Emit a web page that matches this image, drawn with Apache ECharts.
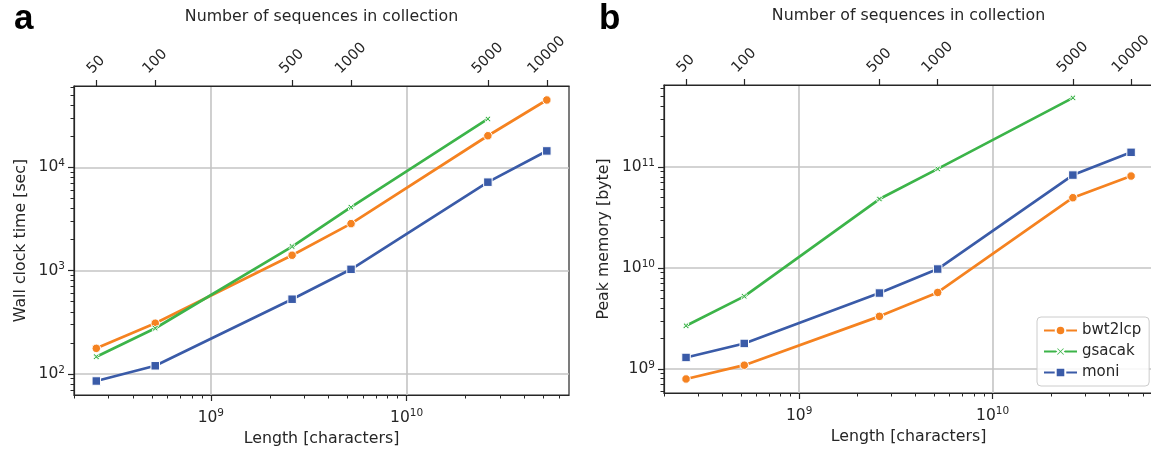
<!DOCTYPE html>
<html>
<head>
<meta charset="utf-8">
<script src="https://cdn.jsdelivr.net/npm/echarts@6/dist/echarts.min.js"></script>
<style>
    html, body { margin: 0; padding: 0; background: #fff; }
    #chart { width: 1151px; height: 451px; }
</style>
</head>
<body>
<div id="chart"></div>
<script>
// number of sequences and total length of the collection (characters)
var counts = [50, 100, 500, 1000, 5000, 10000];
var lengths = [2.6e8, 5.2e8, 2.6e9, 5.2e9, 2.6e10, 5.2e10];

// panel a: wall clock time [sec]
var timeBwt2lcp = [177, 310, 1410, 2850, 20200, 44800];
var timeGsacak = [147, 277, 1710, 4110, 29400];
var timeMoni = [85.5, 120, 529, 1030, 7180, 14400];

// panel b: peak memory [byte]
var memBwt2lcp = [7.96e8, 1.09e9, 3.32e9, 5.73e9, 4.97e10, 8.15e10];
var memGsacak = [2.68e9, 5.24e9, 4.82e10, 9.6e10, 4.85e11];
var memMoni = [1.30e9, 1.79e9, 5.65e9, 9.77e9, 8.33e10, 1.40e11];

// major tick values
var xTicks = [1e9, 1e10];
var timeTicks = [1e2, 1e3, 1e4];
var memTicks = [1e9, 1e10, 1e11];

var FONT = 'DejaVu Sans';
var INK = '#262626';
var GRID_COLOR = '#c4c4c4';
var COLORS = {bwt2lcp: '#f58220', gsacak: '#3cb449', moni: '#3a5ba8'};
var X_MIN = 2e8, X_MAX = 6.75e10;
var SEQ_LEN = lengths[0] / counts[0];
var NAME_FS = 15.8, TICK_FS = 15.5;

// filled "x" marker
var CROSS = 'path://M2,0L5,3L8,0L10,2L7,5L10,8L8,10L5,7L2,10L0,8L3,5L0,2Z';

function minorTicks(min, max) {
    var out = [];
    for (var e = Math.floor(Math.log10(min)); e <= Math.ceil(Math.log10(max)); e++) {
        for (var m = 2; m <= 9; m++) {
            var v = m * Math.pow(10, e);
            if (v >= min * 0.9999 && v <= max) out.push(v);
        }
    }
    return out;
}

function powLabel(v) {
    return '10{sup|' + Math.round(Math.log10(v)) + '}';
}

var powRich = {sup: {fontSize: 10.5, fontFamily: FONT, color: INK, padding: [0, 0, 8, 0]}};

// rotated top labels: shift so the rotated box sits centered on its tick
var TOP_FS = 14.5;
var topRich = {};
counts.forEach(function (c) {
    var s = String(c);
    var w = s.length * 0.636 * TOP_FS, h = TOP_FS;
    var k = 16;
    var d = -0.5 * (w - h);
    var r = Math.max(0, (k + d) / 2), u = (k - d) / 2;
    topRich['c' + c] = {fontSize: TOP_FS, fontFamily: FONT, color: INK, padding: [0, 0, u, r]};
});

function pairs(ys) {
    return ys.map(function (y, i) {
        return [lengths[i], y];
    });
}

function makeX(gridIndex, min, max) {
    return [
        {   // main bottom axis
            type: 'log', gridIndex: gridIndex, position: 'bottom', min: min, max: max,
            name: 'Length [characters]', nameLocation: 'middle', nameGap: 36, nameMoveOverlap: false,
            nameTextStyle: {fontFamily: FONT, fontSize: NAME_FS, color: INK},
            axisLine: {show: true, lineStyle: {color: INK, width: 1.2}},
            axisTick: {show: true, length: 6, customValues: xTicks, lineStyle: {color: INK, width: 1.2}},
            axisLabel: {customValues: xTicks, formatter: powLabel, rich: powRich, margin: 13,
                fontFamily: FONT, fontSize: TICK_FS, color: INK},
            splitLine: {show: true, lineStyle: {color: GRID_COLOR, width: 1.6}}
        },
        {   // minor ticks
            type: 'log', gridIndex: gridIndex, position: 'bottom', min: min, max: max,
            axisLine: {show: false},
            axisTick: {show: true, length: 3.5, customValues: minorTicks(min, max), lineStyle: {color: INK, width: 1}},
            axisLabel: {show: false},
            splitLine: {show: false}
        },
        {   // number of sequences
            type: 'log', gridIndex: gridIndex, position: 'top', min: min / SEQ_LEN, max: max / SEQ_LEN,
            name: 'Number of sequences in collection', nameLocation: 'middle', nameGap: 61, nameMoveOverlap: false,
            nameTextStyle: {fontFamily: FONT, fontSize: NAME_FS, color: INK},
            axisLine: {show: true, lineStyle: {color: INK, width: 1.2}},
            axisTick: {show: true, length: 6, customValues: counts, lineStyle: {color: INK, width: 1.2}},
            axisLabel: {customValues: counts, rotate: -45, margin: -2, align: 'left', verticalAlign: 'bottom',
                formatter: function (v) {
                    var c = Math.round(v);
                    return '{c' + c + '|' + c + '}';
                },
                rich: topRich, fontFamily: FONT, fontSize: TOP_FS, color: INK},
            splitLine: {show: false}
        }
    ];
}

function makeY(gridIndex, min, max, ticks, title, gap) {
    return [
        {
            type: 'log', gridIndex: gridIndex, position: 'left', min: min, max: max,
            name: title, nameLocation: 'middle', nameGap: gap, nameMoveOverlap: false,
            nameTextStyle: {fontFamily: FONT, fontSize: NAME_FS, color: INK},
            axisLine: {show: true, lineStyle: {color: INK, width: 1.2}},
            axisTick: {show: true, length: 6, customValues: ticks, lineStyle: {color: INK, width: 1.2}},
            axisLabel: {customValues: ticks, formatter: powLabel, rich: powRich, margin: 9,
                fontFamily: FONT, fontSize: TICK_FS, color: INK},
            splitLine: {show: true, lineStyle: {color: GRID_COLOR, width: 1.6}}
        },
        {
            type: 'log', gridIndex: gridIndex, position: 'left', min: min, max: max,
            axisLine: {show: false},
            axisTick: {show: true, length: 3.5, customValues: minorTicks(min, max), lineStyle: {color: INK, width: 1}},
            axisLabel: {show: false},
            splitLine: {show: false}
        }
    ];
}

function line(name, ys, xIndex, yIndex) {
    var symbol = 'circle', size = 8.5;
    if (name === 'gsacak') { symbol = CROSS; size = 6; }
    if (name === 'moni') { symbol = 'rect'; size = 8.5; }
    return {
        name: name, type: 'line', xAxisIndex: xIndex, yAxisIndex: yIndex,
        data: pairs(ys), symbol: symbol, symbolSize: size, showSymbol: true,
        lineStyle: {color: COLORS[name], width: 2.7},
        itemStyle: {color: COLORS[name], borderColor: '#fff', borderWidth: 1},
        emphasis: {disabled: true},
        z: 3, animation: false
    };
}

var chart = echarts.init(document.getElementById('chart'));

var gridStyle = {show: true, borderColor: INK, borderWidth: 1.2, backgroundColor: '#fff', outerBoundsMode: 'none'};

var option = {
    animation: false,
    title: [
        {text: 'a', left: 9, top: -3, textStyle: {fontFamily: 'Liberation Sans', fontWeight: 'bold', fontSize: 35, color: '#000'}},
        {text: 'b', left: 594, top: -3, textStyle: {fontFamily: 'Liberation Sans', fontWeight: 'bold', fontSize: 35, color: '#000'}}
    ],
    grid: [
        echarts.util.extend({left: 74, top: 86, width: 495, height: 309}, gridStyle),
        echarts.util.extend({left: 664, top: 85, width: 489, height: 308}, gridStyle)
    ],
    legend: {
        data: ['bwt2lcp', 'gsacak', 'moni'],
        orient: 'vertical', left: 1037, top: 317,
        itemWidth: 33, itemHeight: 12, itemGap: 6,
        padding: [6, 8, 6, 6],
        borderColor: '#cccccc', borderWidth: 1, borderRadius: 4,
        backgroundColor: 'rgba(255,255,255,0.85)',
        textStyle: {fontFamily: FONT, fontSize: 15, color: INK},
        selectedMode: false
    },
    xAxis: makeX(0, X_MIN, X_MAX).concat(makeX(1, X_MIN, X_MAX)),
    yAxis: makeY(0, 62.6, 61200, timeTicks, 'Wall clock time [sec]', 45)
        .concat(makeY(1, 5.78e8, 6.5e11, memTicks, 'Peak memory [byte]', 52)),
    series: [
        line('bwt2lcp', timeBwt2lcp, 0, 0),
        line('gsacak', timeGsacak, 0, 0),
        line('moni', timeMoni, 0, 0),
        line('bwt2lcp', memBwt2lcp, 3, 2),
        line('gsacak', memGsacak, 3, 2),
        line('moni', memMoni, 3, 2)
    ]
};

chart.setOption(option);
</script>
</body>
</html>
